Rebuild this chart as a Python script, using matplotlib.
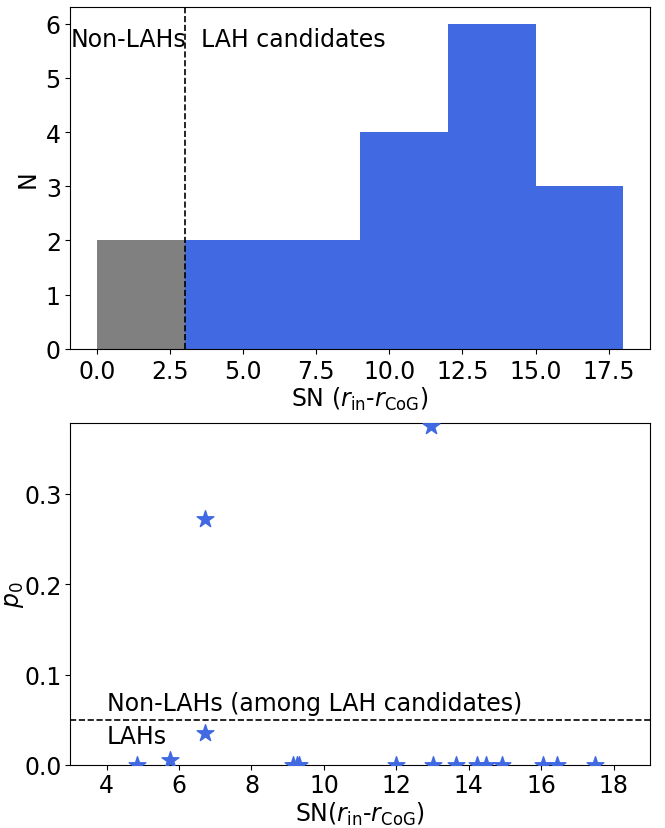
import numpy as np
import matplotlib
matplotlib.use('Agg')
from matplotlib import pyplot as plt

# SN values (r_in - r_CoG)
sn_non_lah = [1.2, 2.4]
sn_lah = [4.85, 5.74, 6.72, 6.72, 9.15, 9.25, 9.3, 11.98,
          12.97, 13.01, 13.64, 14.22, 14.48, 14.91, 16.04, 16.44, 17.49]
p0_lah = [0.0, 0.006, 0.272, 0.035, 0.0, 0.0, 0.0, 0.0,
          0.375, 0.0, 0.0, 0.0, 0.0, 0.0, 0.0, 0.0, 0.0]
bins = np.arange(0, 19, 3)
sn_cut = 3
p0_cut = 0.05

plt.rcParams['font.size'] = 17

fig = plt.figure(figsize=(6.65, 8.29), dpi=100)
plt.subplots_adjust(left=0.106, right=0.977, top=0.990, bottom=0.076, hspace=0.218)

ax1 = plt.subplot(211)
ax1.hist(sn_non_lah, bins=bins, color='gray')
ax1.hist(sn_lah, bins=bins, color='royalblue')
ax1.axvline(sn_cut, color='k', ls='--', lw=1.2)
ax1.text(-0.88, 5.72, 'Non-LAHs', va='center', ha='left')
ax1.text(3.55, 5.72, 'LAH candidates', va='center', ha='left')
ax1.set_xlabel(r'SN ($r_{\rm in}$-$r_{\rm CoG}$)', labelpad=1.5)
ax1.set_ylabel('N')

ax2 = plt.subplot(212)
ax2.scatter(sn_lah, p0_lah, marker='*', s=160, color='royalblue', zorder=3)
ax2.axhline(p0_cut, color='k', ls='--', lw=1.2)
ax2.text(4.0, 0.069, 'Non-LAHs (among LAH candidates)', va='center', ha='left')
ax2.text(4.0, 0.032, 'LAHs', va='center', ha='left')
ax2.set_xlim(3, 19)
ax2.set_ylim(0, 0.378)
ax2.set_yticks([0.0, 0.1, 0.2, 0.3])
ax2.tick_params(axis='x', pad=2.5)
ax2.tick_params(axis='y', pad=2.5)
ax2.set_xlabel(r'SN($r_{\rm in}$-$r_{\rm CoG}$)', labelpad=1.5)
ax2.set_ylabel(r'$p_0$', labelpad=-1)

plt.savefig('out.png', dpi=100)
